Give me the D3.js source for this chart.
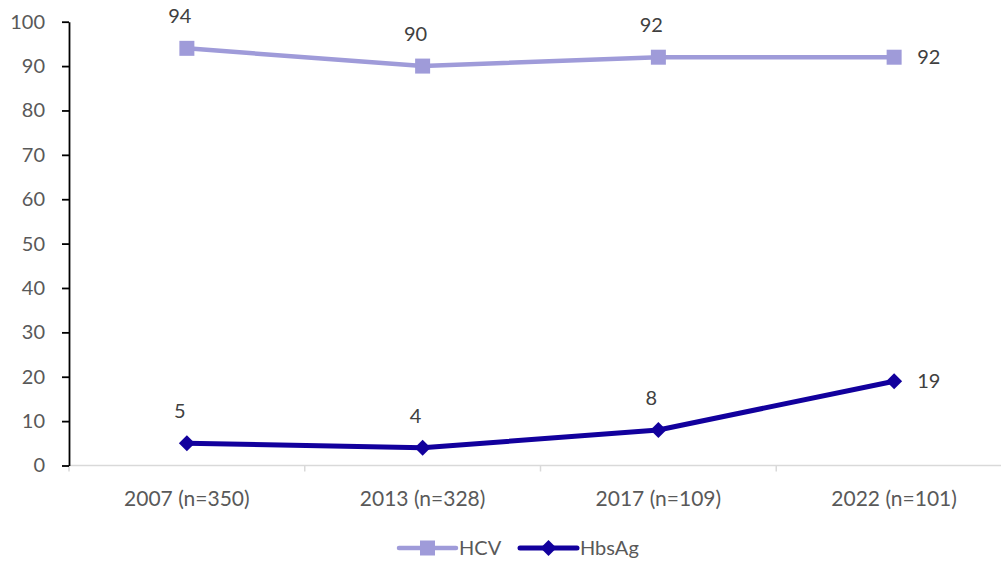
<!DOCTYPE html>
<html>
<head>
<meta charset="utf-8">
<script src="https://cdn.jsdelivr.net/npm/d3@7"></script>
<style>
  html, body { margin: 0; padding: 0; background: #fff; }
  svg { display: block; font-family: Lato, "Open Sans", sans-serif; }
</style>
</head>
<body>
<svg id="chart" width="1001" height="564"></svg>
<script>
// Survey rounds and positivity (%) per marker
const categories = ["2007 (n=350)", "2013 (n=328)", "2017 (n=109)", "2022 (n=101)"];
const hcvValues = [94, 90, 92, 92];
const hbsagValues = [5, 4, 8, 19];
const yTicks = [0, 10, 20, 30, 40, 50, 60, 70, 80, 90, 100];
const seriesNames = ["HCV", "HbsAg"];

const W = 1001, H = 564;
const svg = d3.select("#chart");

const x = d3.scaleBand().domain(categories).range([69, 1012]);
const y = d3.scaleLinear().domain([0, 100]).range([465.5, 21.7]);
const cx = d => x(d) + x.bandwidth() / 2;

const series = [
  { name: seriesNames[0], values: hcvValues, color: "#9f9bd9", width: 4.5, marker: "square" },
  { name: seriesNames[1], values: hbsagValues, color: "#12009d", width: 5, marker: "diamond" }
];

// X axis: light grey baseline with category boundary ticks
const xAxisG = svg.append("g").attr("transform", `translate(0,${y(0)})`);
xAxisG.append("line")
  .attr("x1", x.range()[0]).attr("x2", x.range()[1])
  .attr("stroke", "#d9d9d9").attr("stroke-width", 1.5);
const bounds = categories.map(c => x(c)).concat([x.range()[1]]);
xAxisG.selectAll("line.bt").data(bounds).join("line")
  .attr("class", "bt")
  .attr("x1", d => d).attr("x2", d => d)
  .attr("y1", 0).attr("y2", 6)
  .attr("stroke", "#d9d9d9").attr("stroke-width", 1.5);
xAxisG.selectAll("text").data(categories).join("text")
  .attr("x", d => cx(d)).attr("y", 40)
  .attr("text-anchor", "middle")
  .attr("font-size", 21).attr("fill", "#595959")
  .text(d => d);

// Y axis: black line, outward ticks
const yAxis = d3.axisLeft(y).tickValues(yTicks).tickSize(7).tickSizeOuter(0).tickPadding(17);
const yAxisG = svg.append("g").attr("transform", `translate(${x.range()[0]},0)`).call(yAxis);
yAxisG.select(".domain").attr("stroke", "#000").attr("stroke-width", 1.8);
yAxisG.selectAll(".tick line").attr("stroke", "#000").attr("stroke-width", 1.8);
yAxisG.selectAll(".tick text")
  .attr("font-size", 20).attr("fill", "#595959")
  .attr("font-family", "Lato, 'Open Sans', sans-serif");

const line = d3.line().x((d, i) => cx(categories[i])).y(d => y(d));

const squareSym = d3.symbol().type(d3.symbolSquare).size(15 * 15);
function diamondPath(s) {
  const h = s / 2;
  return `M0,${-h}L${h},0L0,${h}L${-h},0Z`;
}

series.forEach(s => {
  const g = svg.append("g");
  g.append("path")
    .datum(s.values)
    .attr("d", line)
    .attr("fill", "none")
    .attr("stroke", s.color)
    .attr("stroke-width", s.width)
    .attr("stroke-linejoin", "round");
  g.selectAll("path.m").data(s.values).join("path")
    .attr("class", "m")
    .attr("transform", (d, i) => `translate(${cx(categories[i])},${y(d)})`)
    .attr("d", s.marker === "square" ? squareSym() : diamondPath(16))
    .attr("fill", s.color);
  // Value labels: above the point, last one to the right
  g.selectAll("text").data(s.values).join("text")
    .attr("x", (d, i) => i === s.values.length - 1 ? cx(categories[i]) + 23 : cx(categories[i]) - 7)
    .attr("y", (d, i) => i === s.values.length - 1 ? y(d) + 7 : y(d) - 25)
    .attr("text-anchor", (d, i) => i === s.values.length - 1 ? "start" : "middle")
    .attr("font-size", 20).attr("fill", "#404040")
    .text(d => d);
});

// Legend
const legend = svg.append("g").attr("transform", "translate(0,548)");
const legendX = [399, 520];
series.forEach((s, i) => {
  const lg = legend.append("g").attr("transform", `translate(${legendX[i]},0)`);
  lg.append("line").attr("x1", 0).attr("x2", 57)
    .attr("stroke", s.color).attr("stroke-width", s.width).attr("stroke-linecap", "round");
  lg.append("path")
    .attr("transform", "translate(28.5,0)")
    .attr("d", s.marker === "square" ? squareSym() : diamondPath(16))
    .attr("fill", s.color);
  lg.append("text").attr("x", 60).attr("y", 7)
    .attr("font-size", 20).attr("fill", "#595959")
    .text(s.name);
});
</script>
</body>
</html>
